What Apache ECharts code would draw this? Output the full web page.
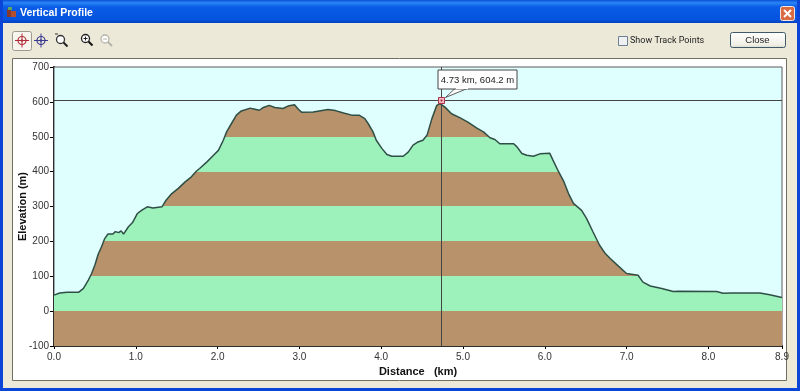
<!DOCTYPE html>
<html><head><meta charset="utf-8">
<style>html,body{margin:0;padding:0;background:#ECE9D8}#c{width:800px;height:391px}</style>
<script src="https://cdn.jsdelivr.net/npm/echarts@6/dist/echarts.min.js"></script>
</head><body><div id="c"></div>
<script>
var distanceKm = [0,0.01,0.07,0.16,0.30,0.36,0.42,0.46,0.50,0.54,0.58,0.62,0.66,0.72,0.75,0.79,0.82,0.85,0.91,0.96,1.02,1.07,1.14,1.21,1.32,1.37,1.44,1.52,1.60,1.68,1.74,1.78,1.87,1.95,2.01,2.07,2.11,2.17,2.23,2.29,2.40,2.43,2.51,2.56,2.63,2.70,2.80,2.86,2.94,2.99,3.03,3.17,3.35,3.44,3.54,3.64,3.73,3.80,3.84,3.90,3.94,4.01,4.07,4.13,4.27,4.33,4.39,4.45,4.51,4.56,4.62,4.68,4.72,4.78,4.86,4.96,5.06,5.17,5.25,5.33,5.39,5.45,5.62,5.66,5.72,5.78,5.86,5.94,6.06,6.10,6.17,6.23,6.29,6.35,6.45,6.51,6.59,6.67,6.74,6.80,6.90,7.00,7.14,7.20,7.29,7.43,7.57,7.63,8.10,8.18,8.28,8.63,8.75,8.90];
var elevationM = [46,48,52,54,54,65,89,108,132,163,184,208,221,221,228,225,230,221,242,254,280,289,299,296,299,318,337,352,370,385,401,409,428,447,461,490,514,538,562,574,582,580,576,584,590,584,581,588,592,578,570,571,578,575,568,562,562,552,538,514,490,466,449,444,444,456,476,485,490,504,552,590,595,585,566,555,542,525,514,497,492,480,480,471,452,447,444,451,453,433,399,373,337,309,289,266,227,189,165,151,129,108,103,83,72,65,56,57,56,51,52,52,47,39];
var cursorKm = 4.73;
var cursorM = 604.2;
var cursorLabel = '4.73 km, 604.2 m';
var bandEdges = [-100,0,100,200,300,400,500,700];
var bandColors = ['#B8926A','#9DF2BB'];
var xTitle = 'Distance   (km)';
var yTitle = 'Elevation (m)';
var windowTitle = 'Vertical Profile';

var FONT = '"Liberation Sans", Arial, sans-serif';
var pieces = [];
for (var i = 0; i < bandEdges.length - 1; i++) {
  pieces.push({gte: bandEdges[i], lt: bandEdges[i + 1], color: bandColors[i % 2]});
}
var points = distanceKm.map(function (d, i) { return [d, elevationM[i]]; });

var chrome = [
  {type:'rect', z:-10, shape:{x:0,y:0,width:800,height:391}, style:{fill:'#ECE9D8'}},
  {type:'rect', z:-9, shape:{x:0,y:0,width:800,height:23}, style:{fill:new echarts.graphic.LinearGradient(0,0,0,1,[
    {offset:0,color:'#0A4FD8'},{offset:0.12,color:'#2A86F5'},{offset:0.3,color:'#0A5CE6'},{offset:0.85,color:'#0553DE'},{offset:1,color:'#0340BE'}])}},
  {type:'rect', z:-9, shape:{x:0,y:0,width:3,height:391}, style:{fill:'#0A45D8'}},
  {type:'rect', z:-9, shape:{x:797,y:0,width:3,height:391}, style:{fill:'#0A45D8'}},
  {type:'rect', z:-9, shape:{x:0,y:388,width:800,height:3}, style:{fill:'#0A45D8'}},
  {type:'rect', z:-8, shape:{x:12.5,y:58.5,width:774,height:322}, style:{fill:'#fff',stroke:'#716F64',lineWidth:1}},
  {type:'text', z:5, x:20, y:8, style:{text:windowTitle,fill:'#fff',font:'bold 10.5px '+FONT}},
  {type:'rect', z:5, shape:{x:7,y:9,width:4,height:8}, style:{fill:'#8a3a2a'}},
  {type:'rect', z:5, shape:{x:11,y:11,width:5,height:6}, style:{fill:'#b05030'}},
  {type:'rect', z:5, shape:{x:8,y:7,width:4,height:3}, style:{fill:'#5fa85f'}},
  {type:'rect', z:5, shape:{x:780.5,y:6.5,width:14,height:14,r:2}, style:{fill:'#DA6A42',stroke:'#f5e6df',lineWidth:1}},
  {type:'line', z:6, shape:{x1:784,y1:10,x2:791,y2:17}, style:{stroke:'#fff',lineWidth:2}},
  {type:'line', z:6, shape:{x1:791,y1:10,x2:784,y2:17}, style:{stroke:'#fff',lineWidth:2}},
  {type:'rect', z:5, shape:{x:12.5,y:31.5,width:19,height:19,r:2}, style:{fill:'#F7F5EE',stroke:'#9c9a8f',lineWidth:1}}
];
function crossIcon(cx, cy, col) {
  chrome.push({type:'circle', z:6, shape:{cx:cx,cy:cy,r:4}, style:{fill:'none',stroke:col,lineWidth:1.2}});
  chrome.push({type:'line', z:6, shape:{x1:cx-7,y1:cy,x2:cx+7,y2:cy}, style:{stroke:col,lineWidth:1}});
  chrome.push({type:'line', z:6, shape:{x1:cx,y1:cy-7,x2:cx,y2:cy+7}, style:{stroke:col,lineWidth:1}});
  chrome.push({type:'circle', z:6, shape:{cx:cx,cy:cy,r:1.2}, style:{fill:col}});
}
function lensIcon(cx, cy, col, mark, handle) {
  chrome.push({type:'circle', z:6, shape:{cx:cx,cy:cy,r:4}, style:{fill:'#fff',stroke:col,lineWidth:1.3}});
  chrome.push({type:'line', z:6, shape:{x1:cx+3,y1:cy+3,x2:cx+7,y2:cy+7}, style:{stroke:handle,lineWidth:2}});
  if (mark >= 1) chrome.push({type:'line', z:6, shape:{x1:cx-2,y1:cy,x2:cx+2,y2:cy}, style:{stroke:col,lineWidth:1}});
  if (mark >= 2) chrome.push({type:'line', z:6, shape:{x1:cx,y1:cy-2,x2:cx,y2:cy+2}, style:{stroke:col,lineWidth:1}});
}
crossIcon(22, 40.5, '#B02A38');
crossIcon(41, 40.5, '#3A3A90');
lensIcon(60.5, 39.5, '#333', 0, '#222');
chrome.push({type:'line', z:6, shape:{x1:55,y1:34,x2:58,y2:34}, style:{stroke:'#333',lineWidth:1}});
lensIcon(85.5, 38.5, '#222', 2, '#111');
lensIcon(105, 39, '#b5b3a8', 1, '#b5b3a8');
chrome.push({type:'rect', z:5, shape:{x:618.5,y:36.5,width:9,height:9}, style:{fill:'#EEF0F2',stroke:'#6E7F94',lineWidth:1}});
chrome.push({type:'text', z:5, x:630, y:36.5, style:{text:'Show Track Points',fill:'#222',font:'9px Roboto, '+FONT}});
chrome.push({type:'rect', z:5, shape:{x:730.5,y:32.5,width:55,height:15,r:2}, style:{fill:new echarts.graphic.LinearGradient(0,0,0,1,[{offset:0,color:'#FFFFFF'},{offset:0.8,color:'#F0EFE6'},{offset:1,color:'#D9D6C8'}]),stroke:'#3C5A6A',lineWidth:1}});
chrome.push({type:'text', z:6, x:757.5, y:40.5, style:{text:'Close',fill:'#222',font:'9.5px '+FONT,align:'center',verticalAlign:'middle'}});

var chart = echarts.init(document.getElementById('c'), null, {renderer:'canvas'});
chart.setOption({
  animation:false,
  backgroundColor:'transparent',
  graphic:{elements:chrome},
  grid:{left:54,right:18,top:67,bottom:45,outerBoundsMode:'none',show:true,backgroundColor:'#DFFFFF',borderColor:'#5a5a5a',borderWidth:1,z:1},
  xAxis:{type:'value',min:0,max:8.9,interval:1,name:xTitle,nameLocation:'middle',nameGap:20,nameMoveOverlap:false,
    nameTextStyle:{fontFamily:FONT,fontSize:11,fontWeight:'bold',color:'#111'},
    axisLine:{onZero:false,lineStyle:{color:'#000',width:2}},
    axisTick:{length:3,lineStyle:{color:'#000',width:1}},
    axisLabel:{margin:6,fontFamily:FONT,fontSize:10,color:'#333',showMaxLabel:true,hideOverlap:false,
      formatter:function(v){return v.toFixed(1);}},
    splitLine:{show:false}},
  yAxis:{type:'value',min:-100,max:700,interval:100,name:yTitle,nameLocation:'middle',nameGap:31,nameMoveOverlap:false,
    nameTextStyle:{fontFamily:FONT,fontSize:11,fontWeight:'bold',color:'#111',verticalAlign:'middle'},
    axisLine:{onZero:false,lineStyle:{color:'#000',width:2}},
    axisTick:{length:4,lineStyle:{color:'#000',width:1}},
    axisLabel:{margin:5,fontFamily:FONT,fontSize:10,color:'#333'},
    splitLine:{show:false}},
  visualMap:{show:false,type:'piecewise',dimension:1,seriesIndex:0,pieces:pieces},
  series:[
    {type:'line',data:points,showSymbol:false,symbol:'none',z:3,silent:true,
      lineStyle:{color:'#2F4F46',width:1.5},
      areaStyle:{origin:'start',opacity:1}},
    {type:'custom',coordinateSystem:'cartesian2d',z:6,clip:false,silent:true,
      encode:{x:0,y:1},data:[[cursorKm,cursorM]],
      renderItem:function(params,api){
        var p=api.coord([api.value(0),api.value(1)]);
        var px=Math.round(p[0])+0.5, py=Math.round(p[1])+0.5;
        var left=api.coord([0,api.value(1)])[0], right=api.coord([8.9,api.value(1)])[0];
        var top=api.coord([api.value(0),700])[1], bottom=api.coord([api.value(0),-100])[1];
        var bx=px-3.5, by=py-30.5;
        return {type:'group',children:[
          {type:'line',shape:{x1:left,y1:py,x2:right,y2:py},style:{stroke:'#444',lineWidth:1}},
          {type:'line',shape:{x1:px,y1:top,x2:px,y2:bottom},style:{stroke:'#444',lineWidth:1}},
          {type:'polygon',shape:{points:[[px+4,py-3],[px+14,by+18],[px+27,by+18]]},style:{fill:'#fff',stroke:'#333',lineWidth:0.8}},
          {type:'rect',shape:{x:bx,y:by,width:79,height:19},style:{fill:'#fff',stroke:'#444',lineWidth:1}},
          {type:'line',shape:{x1:px+14.5,y1:by+18.5,x2:px+26.5,y2:by+18.5},style:{stroke:'#fff',lineWidth:1.2}},
          {type:'text',x:bx+39.5,y:by+10,style:{text:cursorLabel,fill:'#222',font:'9.5px '+FONT,align:'center',verticalAlign:'middle'}},
          {type:'rect',shape:{x:px-3,y:py-3,width:6,height:6},style:{fill:'#F2B8C0',stroke:'#B03048',lineWidth:1}},
          {type:'circle',shape:{cx:px,cy:py,r:1},style:{fill:'#902030'}}
        ]};
      }}
  ]
});
</script></body></html>
